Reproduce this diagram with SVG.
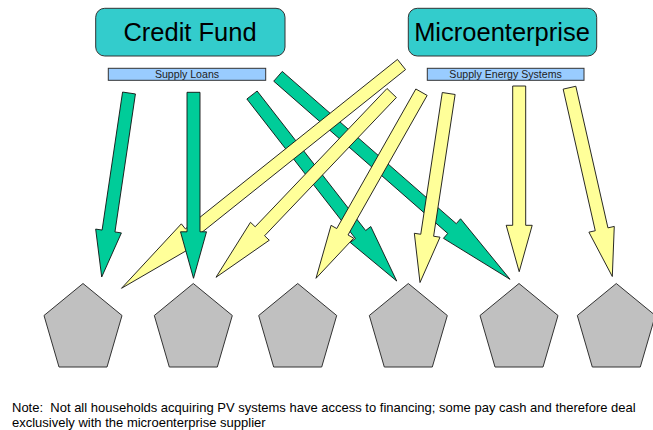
<svg xmlns="http://www.w3.org/2000/svg" width="653" height="430" viewBox="0 0 653 430">
<style>
.box{fill:#33CCCC;stroke:#333;stroke-width:1}
.lbl{fill:#99CCFF;stroke:#333;stroke-width:1}
.big{font-family:"Liberation Sans",Arial,sans-serif;font-size:25.5px;fill:#000;text-anchor:middle}
.small{font-family:"Liberation Sans",Arial,sans-serif;font-size:10.6px;fill:#222;text-anchor:middle}
.note{font-family:"Liberation Sans",Arial,sans-serif;font-size:13px;fill:#000}
.g{fill:#00CC99;stroke:#111;stroke-width:0.9;stroke-linejoin:miter}
.y{fill:#FFFF99;stroke:#111;stroke-width:0.9;stroke-linejoin:miter}
.hh{fill:#C0C0C0;stroke:#333;stroke-width:1}
</style>
<defs>
<polygon id="pent" points="0,283.5 39,315.5 24,367 -24,367 -39,315.5"/>
</defs>
<rect width="653" height="430" fill="#fff"/>
<g id="credit-fund">
<rect class="box" x="95.7" y="8.3" width="189.3" height="47.7" rx="9"/>
<text class="big" x="190" y="40.7">Credit Fund</text>
<rect class="lbl" x="108.3" y="68.3" width="157.4" height="12"/>
<text class="small" x="187" y="77.8">Supply Loans</text>
</g>
<g id="microenterprise">
<rect class="box" x="408.3" y="8.3" width="188.4" height="47.7" rx="9"/>
<text class="big" x="502" y="40.7">Microenterprise</text>
<rect class="lbl" x="427.3" y="68.3" width="156.7" height="12"/>
<text class="small" x="505.6" y="77.8">Supply Energy Systems</text>
</g>
<g id="connectors">
<polygon class="g" points="246.87,98.99 355.40,238.50 350.27,242.49 396.7,281 370.79,226.53 365.66,230.52 257.13,91.01"/>
<polygon class="g" points="273.72,81.19 447.72,233.44 443.44,238.33 510,279.3 460.56,218.77 456.28,223.66 282.28,71.41"/>
<polygon class="y" points="397.44,59.42 185.40,228.90 181.34,223.83 121.5,288.3 197.58,244.13 193.52,239.06 405.56,69.58"/>
<polygon class="y" points="387.0,88.51 255.18,226.78 250.47,222.30 216,277.3 269.29,240.24 264.58,235.76 396.4,97.49"/>
<polygon class="y" points="415.85,88.99 336.73,228.55 331.07,225.35 316,278.3 353.69,238.17 348.03,234.97 427.15,95.41"/>
<polygon class="y" points="442.27,92.52 420.75,234.26 414.33,233.29 420,282.5 440.03,237.19 433.61,236.22 455.13,94.48"/>
<polygon class="y" points="512.7,86 512.7,225.3 506.2,225.3 519.2,271.7 532.2,225.3 525.7,225.3 525.7,86"/>
<polygon class="y" points="563.16,89.14 595.26,230.74 588.92,232.17 612.3,276.5 614.28,226.43 607.94,227.86 575.84,86.26"/>
<polygon class="g" points="122.57,92.05 102.10,230.05 95.67,229.09 101.7,277 121.39,232.91 114.96,231.95 135.43,93.95"/>
<polygon class="g" points="187,92.3 187,231.8 180.5,231.8 193.5,278.3 206.5,231.8 200,231.8 200,92.3"/>
</g>
<g id="household-1"><use href="#pent" class="hh" x="83"/></g>
<g id="household-2"><use href="#pent" class="hh" x="193.3"/></g>
<g id="household-3"><use href="#pent" class="hh" x="297.7"/></g>
<g id="household-4"><use href="#pent" class="hh" x="408.3"/></g>
<g id="household-5"><use href="#pent" class="hh" x="519"/></g>
<g id="household-6"><use href="#pent" class="hh" x="616.3"/></g>
<g id="note">
<text class="note" x="12" y="412" xml:space="preserve">Note:  Not all households acquiring PV systems have access to financing; some pay cash and therefore deal</text>
<text class="note" x="12" y="426.5">exclusively with the microenterprise supplier</text>
</g>
</svg>
